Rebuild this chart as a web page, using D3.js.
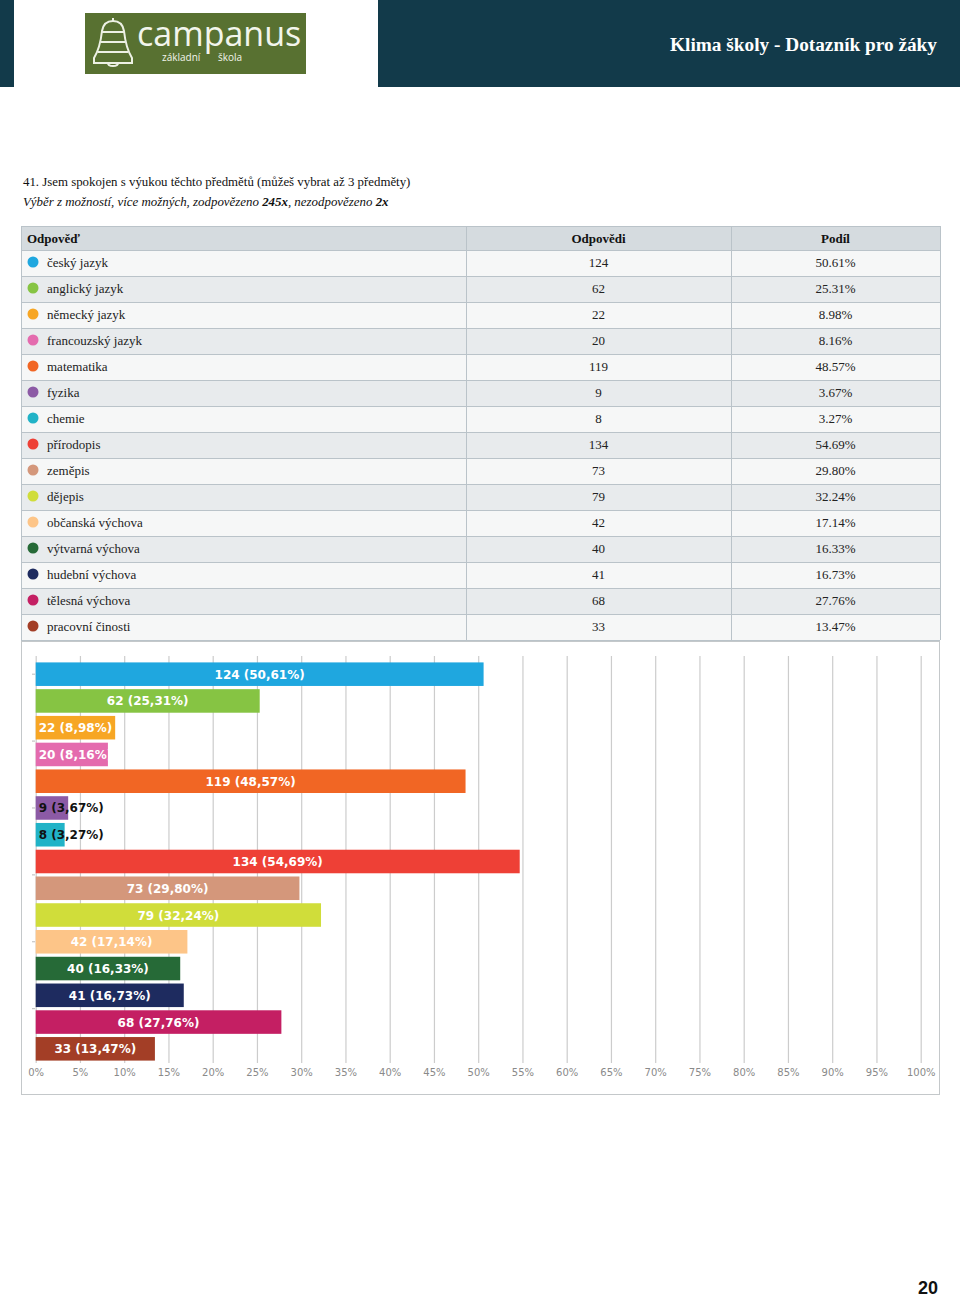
<!DOCTYPE html>
<html>
<head>
<meta charset="utf-8">
<script src="https://cdn.jsdelivr.net/npm/d3@7"></script>
<style>
  html, body { margin: 0; padding: 0; background: #fff; }
  svg { display: block; }
</style>
</head>
<body>
<svg id="page" width="960" height="1298"></svg>
<script>
// ---------- DATA ----------
const categories = ["český jazyk", "anglický jazyk", "německý jazyk", "francouzský jazyk", "matematika",
  "fyzika", "chemie", "přírodopis", "zeměpis", "dějepis", "občanská výchova", "výtvarná výchova",
  "hudební výchova", "tělesná výchova", "pracovní činosti"];
const counts = [124, 62, 22, 20, 119, 9, 8, 134, 73, 79, 42, 40, 41, 68, 33];
const shares = [50.61, 25.31, 8.98, 8.16, 48.57, 3.67, 3.27, 54.69, 29.80, 32.24, 17.14, 16.33, 16.73, 27.76, 13.47];
const colors = ["#1fa7df", "#86c443", "#f7a624", "#e46bae", "#f16624", "#8c5aa5", "#21b3c7", "#ee4036",
  "#d4977b", "#d0dd3a", "#fdc588", "#266a37", "#1e2b5f", "#c41f63", "#a33e26"];
const xTickValues = [0, 5, 10, 15, 20, 25, 30, 35, 40, 45, 50, 55, 60, 65, 70, 75, 80, 85, 90, 95, 100];
const tableHeaders = ["Odpověď", "Odpovědi", "Podíl"];

const svg = d3.select("#page");
const serif = "'Liberation Serif', 'Times New Roman', serif";
const sans = "'DejaVu Sans', sans-serif";

// ---------- HEADER ----------
svg.append("rect").attr("x", 0).attr("y", 0).attr("width", 960).attr("height", 87).attr("fill", "#123a4a");
svg.append("rect").attr("x", 14).attr("y", 0).attr("width", 364).attr("height", 87).attr("fill", "#ffffff");
svg.append("rect").attr("x", 85).attr("y", 13).attr("width", 221).attr("height", 61).attr("fill", "#587131");
// bell icon
const bell = svg.append("g").attr("fill", "none").attr("stroke", "#edf1e4").attr("stroke-width", 2);
bell.append("path").attr("d", "M113,21 C106,21 103,25 102,31 C101,40 99,50 94,58 L94,63 L132,63 L132,58 C127,50 125,40 124,31 C123,25 120,21 113,21 Z");
bell.append("path").attr("d", "M102,32 L124,32 M101,42 L125,42 M98,52 L128,52");
bell.append("path").attr("d", "M108,63 C108,67 118,67 118,63");
bell.append("path").attr("d", "M113,18 L113,21");
svg.append("text").attr("x", 137).attr("y", 46).attr("fill", "#f2f5ec")
  .style("font-family", "'Open Sans', sans-serif").style("font-size", "34px").text("campanus");
svg.append("text").attr("x", 162).attr("y", 61).attr("fill", "#f2f5ec")
  .style("font-family", "'Open Sans', sans-serif").style("font-size", "10px").text("základní");
svg.append("text").attr("x", 218).attr("y", 61).attr("fill", "#f2f5ec")
  .style("font-family", "'Open Sans', sans-serif").style("font-size", "10px").text("škola");

svg.append("text").attr("x", 937).attr("y", 51).attr("text-anchor", "end").attr("fill", "#ffffff")
  .style("font-family", serif).style("font-weight", "bold").style("font-size", "19.3px")
  .text("Klima školy - Dotazník pro žáky");

// ---------- QUESTION ----------
svg.append("text").attr("x", 23).attr("y", 186)
  .style("font-family", serif).style("font-size", "12.85px").attr("fill", "#111")
  .text("41. Jsem spokojen s výukou těchto předmětů (můžeš vybrat až 3 předměty)");
const sub = svg.append("text").attr("x", 23).attr("y", 206)
  .style("font-family", serif).style("font-size", "12.9px").style("font-style", "italic").attr("fill", "#111");
sub.append("tspan").text("Výběr z možností, více možných, zodpovězeno ");
sub.append("tspan").style("font-weight", "bold").text("245x");
sub.append("tspan").text(", nezodpovězeno ");
sub.append("tspan").style("font-weight", "bold").text("2x");

// ---------- TABLE ----------
const tX = [21, 466, 731, 940];
const tTop = 226, headH = 24, rowH = 26;
const table = svg.append("g");
table.append("rect").attr("x", tX[0]).attr("y", tTop).attr("width", tX[3] - tX[0]).attr("height", headH).attr("fill", "#d5dbdf");
const rowY = d3.scaleLinear().domain([0, 1]).range([tTop + headH, tTop + headH + rowH]);
const rows = table.selectAll("g.row").data(categories).join("g").attr("class", "row")
  .attr("transform", (d, i) => `translate(0,${rowY(i)})`);
rows.append("rect").attr("x", tX[0]).attr("y", 0).attr("width", tX[3] - tX[0]).attr("height", rowH)
  .attr("fill", (d, i) => i % 2 === 0 ? "#f6f7f7" : "#e8ebed");
rows.append("circle").attr("cx", 33).attr("cy", rowH / 2 - 1).attr("r", 5.5).attr("fill", (d, i) => colors[i]);
rows.append("text").attr("x", 47).attr("y", rowH / 2 + 4).style("font-family", serif).style("font-size", "13px")
  .attr("fill", "#222").text(d => d);
rows.append("text").attr("x", (tX[1] + tX[2]) / 2).attr("y", rowH / 2 + 4).attr("text-anchor", "middle")
  .style("font-family", serif).style("font-size", "13px").attr("fill", "#222").text((d, i) => counts[i]);
rows.append("text").attr("x", (tX[2] + tX[3]) / 2).attr("y", rowH / 2 + 4).attr("text-anchor", "middle")
  .style("font-family", serif).style("font-size", "13px").attr("fill", "#222").text((d, i) => shares[i].toFixed(2) + "%");
// header text
[[27, "start"], [(tX[1] + tX[2]) / 2, "middle"], [(tX[2] + tX[3]) / 2, "middle"]].forEach((p, i) => {
  table.append("text").attr("x", p[0]).attr("y", tTop + 17).attr("text-anchor", p[1])
    .style("font-family", serif).style("font-size", "13px").style("font-weight", "bold").attr("fill", "#111")
    .text(tableHeaders[i]);
});
// grid lines
const tBottom = rowY(categories.length);
const borderCol = "#bac3c9";
for (let i = 0; i <= categories.length; i++) {
  table.append("line").attr("x1", tX[0]).attr("x2", tX[3]).attr("y1", rowY(i) + 0.5).attr("y2", rowY(i) + 0.5)
    .attr("stroke", borderCol);
}
table.append("line").attr("x1", tX[0]).attr("x2", tX[3]).attr("y1", tTop + 0.5).attr("y2", tTop + 0.5).attr("stroke", borderCol);
tX.forEach(x => table.append("line").attr("x1", x + 0.5).attr("x2", x + 0.5).attr("y1", tTop).attr("y2", tBottom).attr("stroke", borderCol));

// ---------- CHART ----------
svg.append("rect").attr("x", 21.5).attr("y", 641.5).attr("width", 918).attr("height", 453)
  .attr("fill", "#fff").attr("stroke", "#c4c8ca");

const x = d3.scaleLinear().domain([0, 100]).range([35.7, 920.7]);
const y = d3.scaleBand().domain(categories).range([660.8, 1062.2]).paddingInner(0.12).paddingOuter(0.06);
const gridTop = 656, gridBottom = 1063;

// gridlines
const grid = svg.append("g").attr("transform", `translate(0,${gridBottom})`)
  .call(d3.axisBottom(x).tickValues(xTickValues).tickSize(-(gridBottom - gridTop)).tickFormat(""));
grid.select(".domain").remove();
grid.selectAll(".tick line").attr("stroke", "#cccccc").attr("stroke-width", 1.2);

// axis labels
const ax = svg.append("g").attr("transform", `translate(0,1066)`)
  .call(d3.axisBottom(x).tickValues(xTickValues).tickSize(0).tickFormat(d => d + "%"));
ax.select(".domain").remove();
ax.selectAll("text").style("font-family", sans).style("font-size", "10px").attr("fill", "#8a8a8a").attr("dy", "0.71em");

// small left ticks
const step = y.step();
const yTickPos = [0, 2.5, 5, 7.5, 10, 12.5].map(k => y(categories[0]) + y.bandwidth() / 2 + k * step);
svg.append("g").selectAll("line").data(yTickPos).join("line")
  .attr("x1", 32).attr("x2", 35).attr("y1", d => d).attr("y2", d => d).attr("stroke", "#bbb");

// bars
const defs = svg.append("defs");
const bars = svg.append("g");
categories.forEach((c, i) => {
  const bx = x(0), by = y(c), bw = x(shares[i]) - x(0), bh = y.bandwidth();
  const g = bars.append("g");
  g.append("rect").attr("x", bx).attr("y", by).attr("width", bw).attr("height", bh).attr("fill", colors[i]);
  const label = counts[i] + " (" + shares[i].toFixed(2).replace(".", ",") + "%)";
  if (bw < 50) {
    g.append("text").attr("x", bx + 3).attr("y", by + bh / 2 + 4.5)
      .style("font-family", sans).style("font-weight", "bold").style("font-size", "12px")
      .attr("fill", "#111").text(label);
  } else {
    const id = "clip" + i;
    defs.append("clipPath").attr("id", id).append("rect").attr("x", bx).attr("y", by).attr("width", bw).attr("height", bh);
    const t = g.append("text").attr("y", by + bh / 2 + 4.5)
      .style("font-family", sans).style("font-weight", "bold").style("font-size", "12px")
      .attr("fill", "#fff").attr("clip-path", `url(#${id})`).text(label);
    const tw = t.node().getComputedTextLength();
    if (tw > bw - 4) t.attr("x", bx + 3);
    else t.attr("x", bx + bw / 2).attr("text-anchor", "middle");
  }
});

// ---------- PAGE NUMBER ----------
svg.append("text").attr("x", 928).attr("y", 1294).attr("text-anchor", "middle")
  .style("font-family", "'Liberation Sans', Arial, sans-serif").style("font-weight", "bold").style("font-size", "18px")
  .attr("fill", "#111").text("20");
</script>
</body>
</html>
